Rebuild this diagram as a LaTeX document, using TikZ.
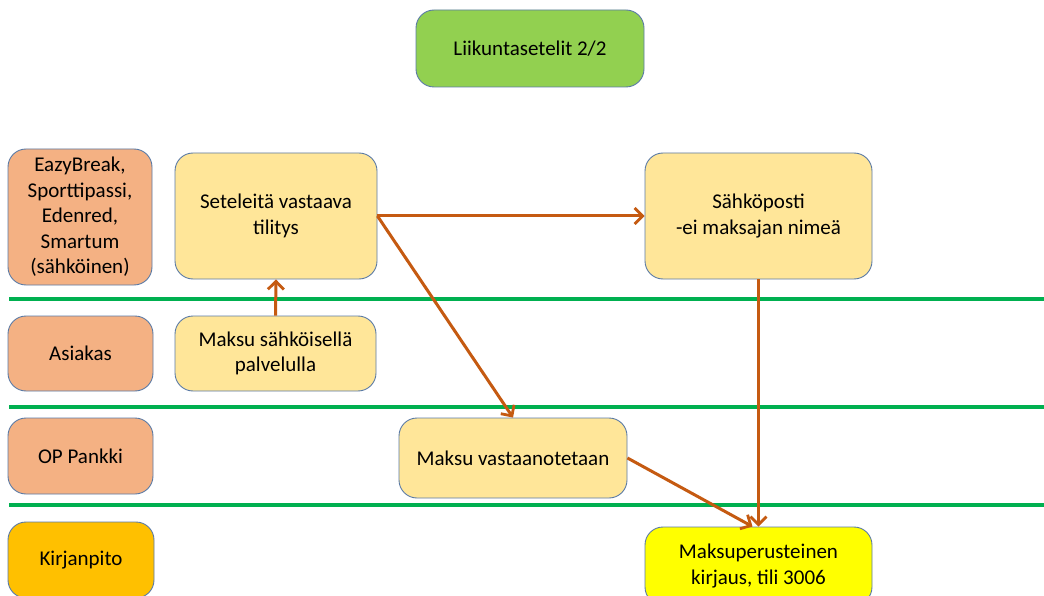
\documentclass[tikz,border=0pt]{standalone}
\usepackage{fontspec}
\setmainfont{Carlito}
\usetikzlibrary{arrows.meta}
\definecolor{boxline}{HTML}{5B7BA6}
\definecolor{titlefill}{HTML}{92D050}
\definecolor{rolefill}{HTML}{F4B183}
\definecolor{stepfill}{HTML}{FFE699}
\definecolor{bookfill}{HTML}{FFC000}
\definecolor{entryfill}{HTML}{FFFF00}
\definecolor{lanegreen}{HTML}{00B050}
\definecolor{flow}{HTML}{C55A11}
\tikzset{
  card/.style={draw=boxline, line width=0.9pt, rounded corners=18pt, align=center,
    inner sep=2pt, font=\fontsize{21}{25.5}\selectfont, text=black},
  role/.style={card, fill=rolefill},
  stepbox/.style={card, fill=stepfill},
  lane/.style={draw=lanegreen, line width=3.2pt},
  flowarrow/.style={draw=flow, line width=3pt,
    -{Straight Barb[length=8pt, width=16pt, line width=2.8pt]}}
}
\begin{document}
\begin{tikzpicture}[x=1pt, y=-1pt]
\useasboundingbox (0,0) rectangle (1044,596);
\clip (0,0) rectangle (1044,596);
\fill[white] (0,0) rectangle (1044,596);

% swim-lane separators
\coordinate (l1a) at (9,299);   \coordinate (l1b) at (1044,299);
\coordinate (l2a) at (9,407);   \coordinate (l2b) at (1044,407);
\coordinate (l3a) at (9,505);   \coordinate (l3b) at (1044,505);
\draw[lane] (l1a) -- (l1b);
\draw[lane] (l2a) -- (l2b);
\draw[lane] (l3a) -- (l3b);

% title
\node[card, fill=titlefill, minimum width=228pt, minimum height=77pt] (title) at (530,48.5) {Liikuntasetelit 2/2};

% lane labels
\node[role, minimum width=144pt, minimum height=136pt] (eazy) at (80,217)
  {EazyBreak,\\Sporttipassi,\\Edenred,\\Smartum\\(sähköinen)};
\node[role, minimum width=145pt, minimum height=75pt] (asiakas) at (80.5,353.5) {Asiakas};
\node[role, minimum width=145pt, minimum height=76pt] (op) at (80.5,456) {OP Pankki};
\node[card, fill=bookfill, minimum width=146pt, minimum height=76pt] (kirj) at (81,560) {Kirjanpito};

% process steps
\node[stepbox, minimum width=202pt, minimum height=126pt] (tilitys) at (276,216) {Seteleitä vastaava\\tilitys};
\node[stepbox, minimum width=227pt, minimum height=126pt] (posti) at (758.5,216) {Sähköposti\\-ei maksajan nimeä};
\node[stepbox, minimum width=201pt, minimum height=75pt] (maksu) at (275.5,353.5) {Maksu sähköisellä\\palvelulla};
\node[stepbox, minimum width=228pt, minimum height=80pt] (vast) at (513,458) {Maksu vastaanotetaan};
\node[card, fill=entryfill, minimum width=227pt, minimum height=78pt] (kirjaus) at (758.5,566) {Maksuperusteinen\\kirjaus, tili 3006};

% flows
\draw[flowarrow] (maksu.north) -- (tilitys.south);
\draw[flowarrow] (tilitys.east) -- (posti.west);
\draw[flowarrow] (tilitys.east) -- (vast.north);
\draw[flowarrow] (posti.south) -- (kirjaus.north);
\draw[flowarrow] (vast.east) -- ([xshift=-6pt]kirjaus.north);
\end{tikzpicture}
\end{document}
